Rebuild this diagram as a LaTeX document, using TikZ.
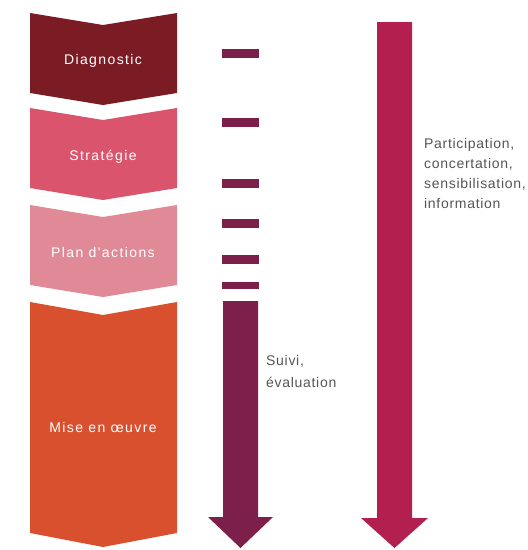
\documentclass[tikz,border=0pt]{standalone}
\usepackage{fontspec}
\setmainfont{Liberation Sans}
\newfontfamily\lab{Liberation Sans}[LetterSpace=10]
\newfontfamily\labside{Liberation Sans}[LetterSpace=5]
\definecolor{cdiag}{HTML}{7B1C24}
\definecolor{cstrat}{HTML}{D9546C}
\definecolor{cplan}{HTML}{E08A98}
\definecolor{cmise}{HTML}{D9502F}
\definecolor{csuivi}{HTML}{7D1F4B}
\definecolor{cpart}{HTML}{B3204F}
\definecolor{ctext}{HTML}{555555}
\begin{document}
\begin{tikzpicture}[x=1pt,y=-1pt,
  chevtext/.style={text=white,font=\lab\fontsize{14}{16}\selectfont,inner sep=0pt},
  sidetext/.style={text=ctext,font=\labside\fontsize{14}{20}\selectfont,align=left,anchor=north west,inner sep=0pt},
  dashbar/.style={fill=csuivi,draw=none}]
\useasboundingbox (0,0) rectangle (528,550);
% chevrons
\fill[cdiag] (30,13) -- (103,25) -- (177,13) -- (177,93) -- (103,105) -- (30,93) -- cycle;
\fill[cstrat] (30,108) -- (103,120) -- (177,108) -- (177,188) -- (103,200) -- (30,188) -- cycle;
\fill[cplan] (30,205) -- (103,217) -- (177,205) -- (177,285) -- (103,297) -- (30,285) -- cycle;
\fill[cmise] (30,302) -- (103,315) -- (177,302) -- (177,533) -- (103,547) -- (30,533) -- cycle;
\node[chevtext] (diag) at (103,61) {Diagnostic};
\node[chevtext] (strat) at (103,157) {Stratégie};
\node[chevtext] (plan) at (103,252) {Plan d'actions};
\node[chevtext] (mise) at (103,427) {Mise en œuvre};
% dashes
\fill[dashbar] (222,49) rectangle (259,58);
\fill[dashbar] (222,118) rectangle (259,127);
\fill[dashbar] (222,179) rectangle (259,188);
\fill[dashbar] (222,219) rectangle (259,228);
\fill[dashbar] (222,255) rectangle (259,264);
\fill[dashbar] (222,282) rectangle (259,289);
% suivi arrow
\fill[csuivi] (223,301) -- (258,301) -- (258,517) -- (273,517) -- (240.5,548) -- (208,517) -- (223,517) -- cycle;
% participation arrow
\fill[cpart] (377,22) -- (412,22) -- (412,518) -- (428,518) -- (394.5,548) -- (361,518) -- (377,518) -- cycle;
% labels
\node[sidetext,font=\labside\fontsize{14}{22}\selectfont] (suivi) at (266,355) {Suivi,\\évaluation};
\node[sidetext] (part) at (424,138) {Participation,\\concertation,\\sensibilisation,\\information};
\end{tikzpicture}
\end{document}
